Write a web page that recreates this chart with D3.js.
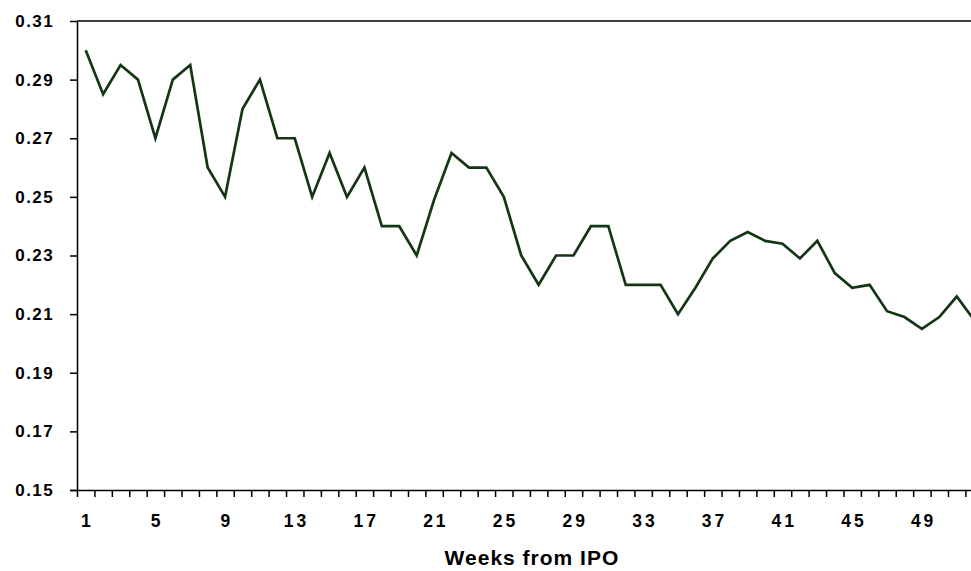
<!DOCTYPE html>
<html>
<head>
<meta charset="utf-8">
<script src="https://cdn.jsdelivr.net/npm/d3@7"></script>
<style>
  body { margin: 0; background: #fff; }
  svg { display: block; }
  text { font-family: Arial, "Liberation Sans", sans-serif; font-weight: bold; fill: #000; }
</style>
</head>
<body>
<script>
// chart size (window size)
const w = 971
const h = 571

// week numbers on the category axis
const weeks = [1, 2, 3, 4, 5, 6, 7, 8, 9, 10, 11, 12, 13, 14, 15, 16, 17, 18, 19, 20,
	21, 22, 23, 24, 25, 26, 27, 28, 29, 30, 31, 32, 33, 34, 35, 36, 37, 38, 39, 40,
	41, 42, 43, 44, 45, 46, 47, 48, 49, 50, 51, 52]

// values
const values = [0.300, 0.285, 0.295, 0.290, 0.270, 0.290, 0.295, 0.260, 0.250, 0.280,
	0.290, 0.270, 0.270, 0.250, 0.265, 0.250, 0.260, 0.240, 0.240, 0.230,
	0.249, 0.265, 0.260, 0.260, 0.250, 0.230, 0.220, 0.230, 0.230, 0.240,
	0.240, 0.220, 0.220, 0.220, 0.210, 0.219, 0.229, 0.235, 0.238, 0.235,
	0.234, 0.229, 0.235, 0.224, 0.219, 0.220, 0.211, 0.209, 0.205, 0.209,
	0.216, 0.208]

// tick labels
const xLabels = [1, 5, 9, 13, 17, 21, 25, 29, 33, 37, 41, 45, 49]
const yTicks = [0.15, 0.17, 0.19, 0.21, 0.23, 0.25, 0.27, 0.29, 0.31]

const axisTitle = 'Weeks from IPO'

//plot area
const plotLeft = 77, plotTop = 21, plotBottom = 490
const bandW = 17.42
const plotRight = plotLeft + weeks.length * bandW

const xScale = d3.scaleBand()
	.domain(weeks)
	.range([plotLeft, plotRight])
	.padding(0)

// boundaries between categories, for the small tick marks
const xEdges = d3.scaleLinear()
	.domain([0, weeks.length])
	.range([plotLeft, plotRight])

const yScale = d3.scaleLinear()
	.domain([0.15, 0.31])
	.range([plotBottom, plotTop])

const svg = d3.select('body')
	.append('svg')
	.attr('width', w)
	.attr('height', h)

// top border of the plot area
svg.append('line')
	.attr('x1', plotLeft).attr('x2', plotRight)
	.attr('y1', yScale(0.31)).attr('y2', yScale(0.31))
	.attr('stroke', '#000')
	.attr('stroke-width', 1.5)

// y axis
const yAxis = svg.append('g')
	.attr('transform', `translate(${plotLeft},0)`)
	.call(d3.axisLeft(yScale)
		.tickValues(yTicks)
		.tickFormat(d3.format('.2f'))
		.tickSize(7)
		.tickPadding(16)
		.tickSizeOuter(0))
yAxis.select('.domain').attr('stroke-width', 1.5)
yAxis.selectAll('.tick line').attr('stroke-width', 1.5)
yAxis.selectAll('text')
	.style('font-size', '17px')
	.style('letter-spacing', '1.4px')
	.attr('font-family', null)

// x axis: tick marks at category edges
const xTicks = svg.append('g')
	.attr('transform', `translate(0,${plotBottom})`)
	.call(d3.axisBottom(xEdges)
		.tickValues(d3.range(0, weeks.length + 1))
		.tickFormat('')
		.tickSize(7)
		.tickSizeOuter(0))
xTicks.select('.domain').attr('d', `M${plotLeft - 7},0.5H${plotRight}`).attr('stroke-width', 1.5)
xTicks.selectAll('.tick line').attr('stroke-width', 1.5)

// x axis: labels at category centres
const xAxis = svg.append('g')
	.attr('transform', `translate(0,${plotBottom})`)
	.call(d3.axisBottom(xScale)
		.tickValues(xLabels)
		.tickSize(0)
		.tickPadding(25))
xAxis.select('.domain').remove()
xAxis.selectAll('text')
	.attr('dx', '0.1em')
	.style('font-size', '17.5px')
	.style('letter-spacing', '3px')
	.attr('font-family', null)

// axis title
svg.append('text')
	.attr('x', (plotLeft + plotRight) / 2 + 2)
	.attr('y', 565)
	.attr('text-anchor', 'middle')
	.style('font-size', '21px')
	.style('letter-spacing', '1px')
	.text(axisTitle)

// the line
const line = d3.line()
	.x((d, i) => xScale(weeks[i]) + xScale.bandwidth() / 2)
	.y(d => yScale(d))

svg.append('path')
	.datum(values)
	.attr('d', line)
	.attr('fill', 'none')
	.attr('stroke', '#143614')
	.attr('stroke-width', 2.7)
	.attr('stroke-linejoin', 'miter')
</script>
</body>
</html>
